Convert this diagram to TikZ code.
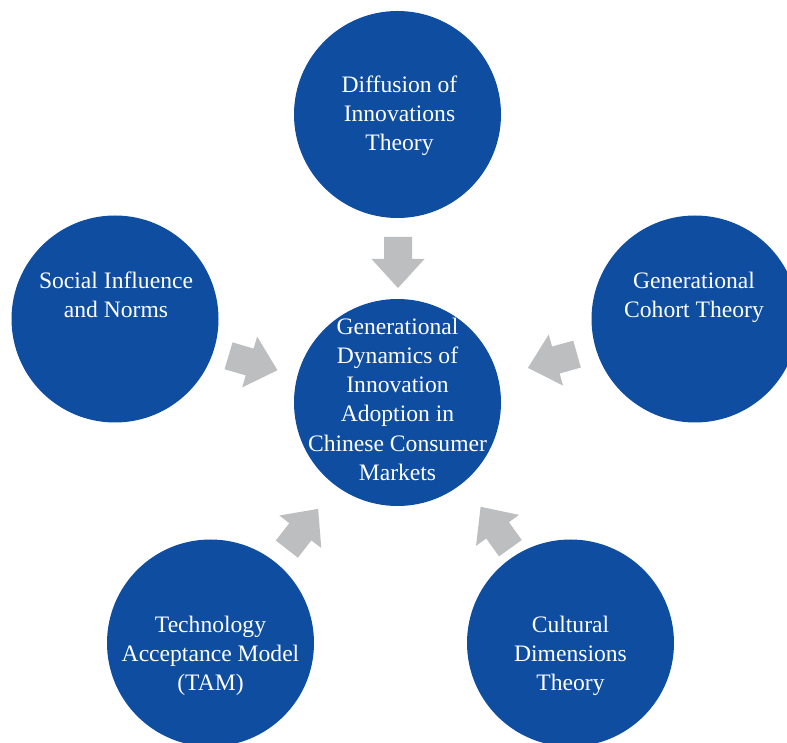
\documentclass[tikz,border=0pt]{standalone}
\usepackage{fontspec}
\setmainfont{Liberation Serif}
\usetikzlibrary{calc}
\definecolor{circblue}{RGB}{14,77,160}
\definecolor{arrgray}{RGB}{188,190,192}
\tikzset{
  circ/.style={circle, fill=circblue, draw=none, minimum size=207pt, inner sep=0pt},
  lbl/.style={text=white, align=center, inner sep=0pt, anchor=north,
              font=\fontsize{23.6}{29.2}\selectfont},
  blockarrow/.pic={\fill[arrgray] (-25.5,-14) -- (-3.5,-14) -- (-3.5,-26.5) -- (25.5,0)
                   -- (-3.5,26.5) -- (-3.5,14) -- (-25.5,14) -- cycle;}
}
\begin{document}
\begin{tikzpicture}[x=1pt,y=1pt]
\useasboundingbox (0,0) rectangle (787,742);
% circles
\node[circ] (ctr)   at (397.5,339.5) {};
\node[circ] (top)   at (397.5,627.5) {};
\node[circ] (left)  at (115,423) {};
\node[circ] (right) at (695,423) {};
\node[circ] (bl)    at (210.5,99) {};
\node[circ] (br)    at (570.5,99) {};
% labels
\node[lbl] (ctrtxt) at (397.5,428.4) {\strut Generational\\Dynamics of\\Innovation\\Adoption in\\Chinese Consumer\\Markets};
\node[lbl] (toptxt) at (399.5,670.4) {\strut Diffusion of\\Innovations\\Theory};
\node[lbl] (lefttxt) at (116,474.4) {\strut Social Influence\\and Norms};
\node[lbl] (righttxt) at (694,474.4) {\strut Generational\\Cohort Theory};
\node[lbl] (bltxt) at (210.5,130.4) {\strut Technology\\Acceptance Model\\(TAM)};
\node[lbl] (brtxt) at (570.5,130.4) {\strut Cultural\\Dimensions\\Theory};
% arrows pointing to the centre
\foreach \o/\px/\py in {top/398/479.5, left/253/379, right/552.5/381, bl/302.5/213, br/495.5/214.5}
  \path let \p1=($(ctr)-(\o)$), \n1={atan2(\y1,\x1)} in (\px,\py) pic[rotate=\n1] {blockarrow};
\end{tikzpicture}
\end{document}
